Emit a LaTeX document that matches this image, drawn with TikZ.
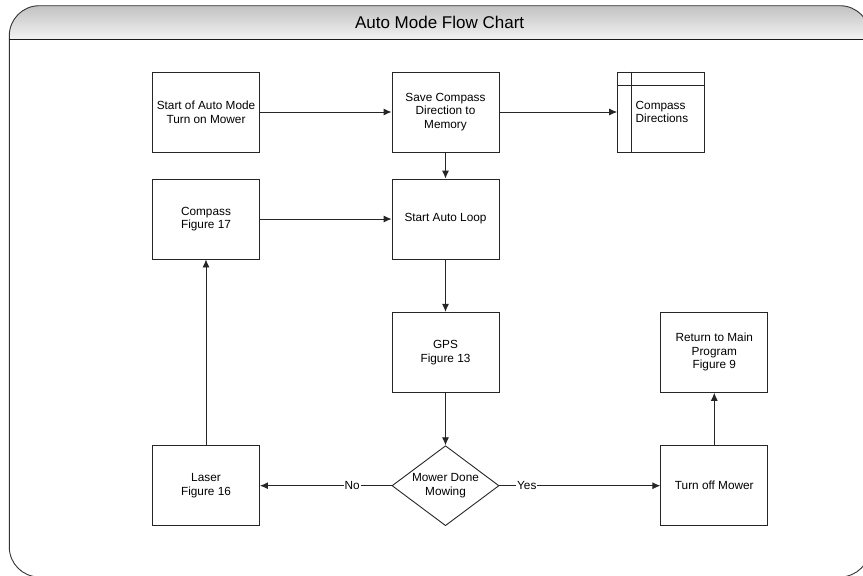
\documentclass[tikz,border=0pt]{standalone}
\usepackage{fontspec}
\setmainfont{Liberation Sans}
\usetikzlibrary{shapes.geometric,arrows.meta,positioning}

\begin{document}
\begin{tikzpicture}[x=1pt, y=-1pt, >={Latex[length=8pt,width=7pt]},
  txt/.style={font=\fontsize{11.8}{13.6}\selectfont},
  box/.style={rectangle, draw=black!85, line width=0.9pt, minimum width=107pt, minimum height=80pt, align=center, inner sep=1pt, txt},
  store/.style={box, minimum width=86.7pt},
  decide/.style={diamond, draw=black!85, line width=0.9pt, aspect=1.34, minimum width=107pt, minimum height=80pt, inner sep=0pt, align=center, txt},
  line/.style={draw=black!85, line width=0.9pt, ->},
  tag/.style={fill=white, inner sep=1pt, txt}]

\useasboundingbox (0,0) rectangle (863,576);
\clip (0,0) rectangle (863,576);

% frame and title bar
\shade[top color=black!24, bottom color=black!5] (9.3,39.3) -- (9.3,35.7) arc[start angle=180, end angle=270, radius=30] -- (840,5.7) arc[start angle=270, end angle=360, radius=30] -- (870,39.3) -- cycle;
\draw[black!80, line width=0.9pt, rounded corners=30pt] (9.3,5.7) rectangle (870,577);
\draw[black!90, line width=0.9pt] (9.3,39.3) -- (870,39.3);
\node[font=\fontsize{17}{20}\selectfont] (title) at (439.6,22.5) {Auto Mode Flow Chart};

% blocks
\node[box] (start) at (206,112) {Start of Auto Mode\\Turn on Mower};
\node[box] (save) at (445.5,112) {Save Compass\\Direction to\\Memory};
\node[store] (dirs) at (661,112) {};
\node[box] (compass) at (206,219) {Compass\\Figure 17};
\node[box] (loop) at (445.5,219) {Start Auto Loop};
\node[box] (gps) at (445.5,352.3) {GPS\\Figure 13};
\node[decide] (done) at (445.5,485.7) {Mower Done\\Mowing};
\node[box] (laser) at (206,485.7) {Laser\\Figure 16};
\node[box] (off) at (714.3,485.7) {Turn off Mower};
\node[box] (ret) at (714.3,352.3) {Return to Main\\Program\\Figure 9};

% stored data marks
\draw[black!85, line width=0.9pt] ([xshift=14pt]dirs.north west) -- ([xshift=14pt]dirs.south west);
\draw[black!85, line width=0.9pt] ([yshift=-14pt]dirs.north west) -- ([yshift=-14pt]dirs.north east);
\node[txt, anchor=west, align=left, inner sep=0pt] (dirstext) at ([xshift=18.3pt]dirs.west) {Compass\\Directions};

% flow
\draw[line] (start) -- (save);
\draw[line] (save) -- (dirs);
\draw[line] (save) -- (loop);
\draw[line] (compass) -- (loop);
\draw[line] (loop) -- (gps);
\draw[line] (gps) -- (done);
\draw[line] (done) -- node[tag, pos=0.3] (no) {No} (laser);
\draw[line] (done) -- node[tag, pos=0.17] (yes) {Yes} (off);
\draw[line] (laser) -- (compass);
\draw[line] (off) -- (ret);

\end{tikzpicture}
\end{document}
